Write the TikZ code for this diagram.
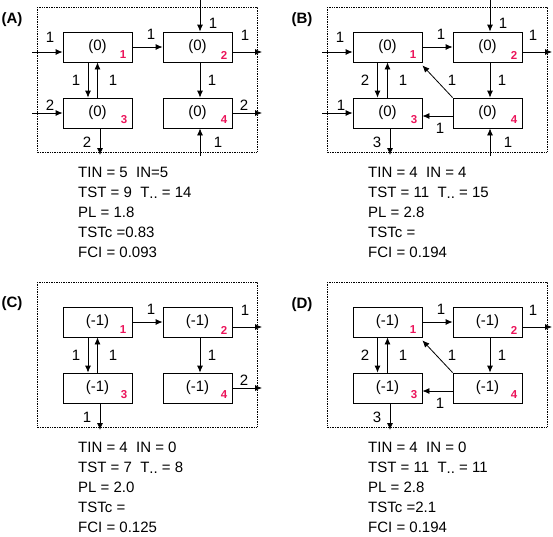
\documentclass[tikz,border=0pt]{standalone}
\usepackage{fontspec}
\setmainfont{Liberation Sans}
\usetikzlibrary{arrows.meta}
\definecolor{idxred}{RGB}{235,20,90}

\tikzset{
  comp/.style={draw,line width=0.8pt,minimum width=69pt,minimum height=30pt,inner sep=0pt,font=\fontsize{15}{18}\selectfont},
  idx/.style={text=idxred,font=\fontsize{11.5}{13}\selectfont\bfseries,inner sep=0pt},
  flow/.style={line width=0.8pt,-{Latex[length=7pt,width=6pt]}},
  lab/.style={font=\fontsize{15}{18}\selectfont,inner sep=0pt},
  frame/.style={densely dotted,line width=0.7pt},
  panel/.style={font=\fontsize{15}{18}\selectfont\bfseries,inner sep=0pt},
  stats/.style={font=\fontsize{15}{20}\selectfont,align=left,anchor=north west,inner sep=0pt}
}
\newcommand{\Tdots}{T\raisebox{-1.5pt}{..}}

\begin{document}
\begin{tikzpicture}[x=1pt,y=-1pt]
\useasboundingbox (0,0) rectangle (553,536);

% ---------- panel A ----------
\node[panel] (pa) at (12,20) {(A)};
\draw[frame] (37,7) rectangle (257,152);
\node[comp] (a1) at (97.5,47) {(0)};
\node[comp] (a2) at (197.5,47) {(0)};
\node[comp] (a3) at (97.5,113) {(0)};
\node[comp] (a4) at (197.5,113) {(0)};
\node[idx] (a1n) at (123,55) {1};
\node[idx] (a2n) at (224,55) {2};
\node[idx] (a3n) at (124,120) {3};
\node[idx] (a4n) at (224,120) {4};
\coordinate (a-in1) at (32,52);
\coordinate (a-in2) at (200,0);
\coordinate (a-out2) at (262,52);
\coordinate (a-in3) at (32,113);
\coordinate (a-out4) at (262,113);
\coordinate (a-out3) at (100,155);
\coordinate (a-in4) at (200,156);
% flows
\draw[flow] (a-in1) -- (a-in1 -| a1.west);
\draw[flow] (a1) -- (a2);
\draw[flow] (a-in2) -- (a-in2 |- a2.north);
\draw[flow] (a-out2 -| a2.east) -- (a-out2);
\draw[flow] ([xshift=-9.5pt]a1.south) -- ([xshift=-9.5pt]a3.north);
\draw[flow] (a3.north) -- (a1.south);
\draw[flow] ([xshift=2.5pt]a2.south) -- ([xshift=2.5pt]a4.north);
\draw[flow] (a-in3) -- (a3.west);
\draw[flow] (a4.east) -- (a-out4);
\draw[flow] (a-out3 |- a3.south) -- (a-out3);
\draw[flow] (a-in4) -- (a-in4 |- a4.south);
% flow values
\node[lab] (a-l1) at (50,37) {1};
\node[lab] (a-l12) at (151,34) {1};
\node[lab] (a-l2) at (213,23) {1};
\node[lab] (a-l20) at (245,35) {1};
\node[lab] (a-l13) at (76,80) {1};
\node[lab] (a-l31) at (113,80) {1};
\node[lab] (a-l24) at (212,80) {1};
\node[lab] (a-l3) at (50,105) {2};
\node[lab] (a-l40) at (244,105) {2};
\node[lab] (a-l30) at (87,142) {2};
\node[lab] (a-l4) at (218,142) {1};
\node[stats] (a-st) at (78,166.5) {TIN = 5~~IN=5\\TST = 9~~\Tdots{} = 14\\PL = 1.8\\TSTc =0.83\\FCI = 0.093};

% ---------- panel B ----------
\begin{scope}[shift={(290,0)}]
\node[panel] (pb) at (12,20) {(B)};
\draw[frame] (37,7) rectangle (257,152);
\node[comp] (b1) at (97.5,47) {(0)};
\node[comp] (b2) at (197.5,47) {(0)};
\node[comp] (b3) at (97.5,113) {(0)};
\node[comp] (b4) at (197.5,113) {(0)};
\node[idx] (b1n) at (123,55) {1};
\node[idx] (b2n) at (224,55) {2};
\node[idx] (b3n) at (124,120) {3};
\node[idx] (b4n) at (224,120) {4};
\coordinate (b-in1) at (32,52);
\coordinate (b-in2) at (200,0);
\coordinate (b-out2) at (262,52);
\coordinate (b-in3) at (32,113);
\coordinate (b-out3) at (100,155);
\coordinate (b-in4) at (200,156);
% flows
\draw[flow] (b-in1) -- (b-in1 -| b1.west);
\draw[flow] (b1) -- (b2);
\draw[flow] (b-in2) -- (b-in2 |- b2.north);
\draw[flow] (b-out2 -| b2.east) -- (b-out2);
\draw[flow] ([xshift=-10pt]b1.south) -- ([xshift=-10pt]b3.north);
\draw[flow] (b3.north) -- (b1.south);
\draw[flow] ([xshift=2.5pt]b2.south) -- ([xshift=2.5pt]b4.north);
\draw[flow] (b4.north west) -- ([yshift=-3pt]b1.south east);
\draw[flow] ([yshift=-3pt]b4.west) -- ([yshift=-3pt]b3.east);
\draw[flow] (b-in3) -- (b3.west);
\draw[flow] (b-out3 |- b3.south) -- (b-out3);
\draw[flow] (b-in4) -- (b-in4 |- b4.south);
% flow values
\node[lab] (b-l1) at (50,37) {1};
\node[lab] (b-l12) at (151,34) {1};
\node[lab] (b-l2) at (213,23) {1};
\node[lab] (b-l20) at (243,35) {1};
\node[lab] (b-l13) at (75,80) {2};
\node[lab] (b-l31) at (113,80) {1};
\node[lab] (b-l41) at (162,80) {1};
\node[lab] (b-l24) at (212,80) {1};
\node[lab] (b-l3) at (51,105) {1};
\node[lab] (b-l43) at (150,128) {1};
\node[lab] (b-l30) at (87,142) {3};
\node[lab] (b-l4) at (218,142) {1};
\node[stats] (b-st) at (78,166.5) {TIN = 4~~IN = 4\\TST = 11~~\Tdots{} = 15\\PL = 2.8\\TSTc =\\FCI = 0.194};
\end{scope}

% ---------- panel C ----------
\begin{scope}[shift={(0,275)}]
\node[panel] (pc) at (12,29) {(C)};
\draw[frame] (37,7) rectangle (257,152);
\node[comp] (c1) at (97.5,47) {(-1)};
\node[comp] (c2) at (197.5,47) {(-1)};
\node[comp] (c3) at (97.5,113) {(-1)};
\node[comp] (c4) at (197.5,113) {(-1)};
\node[idx] (c1n) at (123,55) {1};
\node[idx] (c2n) at (224,55) {2};
\node[idx] (c3n) at (124,120) {3};
\node[idx] (c4n) at (224,120) {4};
\coordinate (c-out2) at (262,52);
\coordinate (c-out4) at (262,113);
\coordinate (c-out3) at (100,155);
% flows
\draw[flow] (c1) -- (c2);
\draw[flow] (c-out2 -| c2.east) -- (c-out2);
\draw[flow] ([xshift=-9.5pt]c1.south) -- ([xshift=-9.5pt]c3.north);
\draw[flow] (c3.north) -- (c1.south);
\draw[flow] ([xshift=2.5pt]c2.south) -- ([xshift=2.5pt]c4.north);
\draw[flow] (c4.east) -- (c-out4);
\draw[flow] (c-out3 |- c3.south) -- (c-out3);
% flow values
\node[lab] (c-l12) at (151,34) {1};
\node[lab] (c-l20) at (245,35) {1};
\node[lab] (c-l13) at (76,80) {1};
\node[lab] (c-l31) at (113,80) {1};
\node[lab] (c-l24) at (212,80) {1};
\node[lab] (c-l40) at (244,105) {2};
\node[lab] (c-l30) at (87,142) {1};
\node[stats] (c-st) at (78,166.5) {TIN = 4~~IN = 0\\TST = 7~~\Tdots{} = 8\\PL = 2.0\\TSTc =\\FCI = 0.125};
\end{scope}

% ---------- panel D ----------
\begin{scope}[shift={(290,275)}]
\node[panel] (pd) at (12,30) {(D)};
\draw[frame] (37,7) rectangle (257,152);
\node[comp] (d1) at (97.5,47) {(-1)};
\node[comp] (d2) at (197.5,47) {(-1)};
\node[comp] (d3) at (97.5,113) {(-1)};
\node[comp] (d4) at (197.5,113) {(-1)};
\node[idx] (d1n) at (123,55) {1};
\node[idx] (d2n) at (224,55) {2};
\node[idx] (d3n) at (124,120) {3};
\node[idx] (d4n) at (224,120) {4};
\coordinate (d-out2) at (262,52);
\coordinate (d-out3) at (100,155);
% flows
\draw[flow] (d1) -- (d2);
\draw[flow] (d-out2 -| d2.east) -- (d-out2);
\draw[flow] ([xshift=-10pt]d1.south) -- ([xshift=-10pt]d3.north);
\draw[flow] (d3.north) -- (d1.south);
\draw[flow] ([xshift=2.5pt]d2.south) -- ([xshift=2.5pt]d4.north);
\draw[flow] (d4.north west) -- ([yshift=-3pt]d1.south east);
\draw[flow] ([yshift=-3pt]d4.west) -- ([yshift=-3pt]d3.east);
\draw[flow] (d-out3 |- d3.south) -- (d-out3);
% flow values
\node[lab] (d-l12) at (151,34) {1};
\node[lab] (d-l20) at (243,35) {1};
\node[lab] (d-l13) at (75,80) {2};
\node[lab] (d-l31) at (113,80) {1};
\node[lab] (d-l41) at (162,80) {1};
\node[lab] (d-l24) at (212,80) {1};
\node[lab] (d-l43) at (150,128) {1};
\node[lab] (d-l30) at (87,142) {3};
\node[stats] (d-st) at (78,166.5) {TIN = 4~~IN = 0\\TST = 11~~\Tdots{} = 11\\PL = 2.8\\TSTc =2.1\\FCI = 0.194};
\end{scope}

\end{tikzpicture}
\end{document}
